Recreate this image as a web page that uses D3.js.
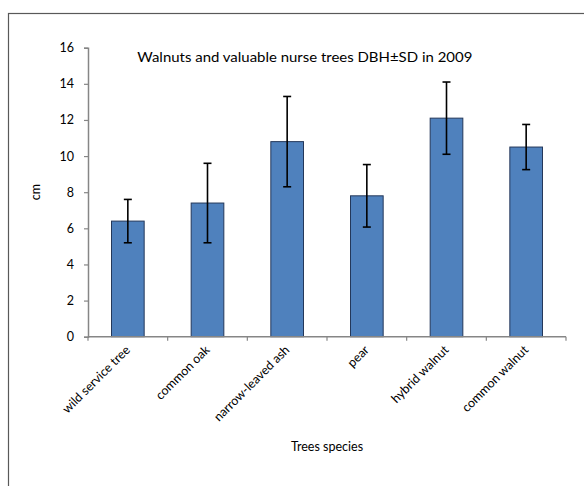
<!DOCTYPE html>
<html><head><meta charset="utf-8">
<script src="https://cdn.jsdelivr.net/npm/d3@7"></script>
<style>body{margin:0;background:#fff;} svg{display:block;} text{font-family:Lato,"Open Sans",sans-serif;fill:#000;}</style>
</head><body>
<svg id="c" width="584" height="486"></svg>
<script>
const categories = ["wild service tree","common oak","narrow-leaved ash","pear","hybrid walnut","common walnut"];
const means = [6.4, 7.4, 10.8, 7.8, 12.1, 10.5];
const sds = [1.2, 2.2, 2.5, 1.73, 2.0, 1.25];
const yTicks = [0,2,4,6,8,10,12,14,16];
const title = "Walnuts and valuable nurse trees DBH±SD in 2009";

const svg = d3.select("#c");
svg.append("rect").attr("x",8.5).attr("y",13.5).attr("width",600).attr("height",500)
  .attr("fill","none").attr("stroke","#595959").attr("stroke-width",1.2);

const pL=88, pR=566, pT=47.7, pB=336.7;
const x = d3.scaleBand().domain(categories).range([pL,pR]).paddingInner(0.59).paddingOuter(0.295);
const xb = d3.scaleBand().domain(categories).range([pL,pR]);
const y = d3.scaleLinear().domain([0,16]).range([pB,pT]);

const ya = svg.append("g").attr("transform",`translate(${pL},0)`)
  .call(d3.axisLeft(y).tickValues(yTicks).tickSize(4).tickPadding(10).tickFormat(d3.format("d")));
ya.select(".domain").attr("stroke","#868686").attr("stroke-width",1.5);
ya.selectAll(".tick line").attr("stroke","#868686").attr("stroke-width",1.2);
ya.selectAll(".tick text").attr("font-size",12.5).attr("font-family","Lato");

svg.append("g").selectAll("rect").data(categories).join("rect")
  .attr("x",d=>x(d)).attr("width",x.bandwidth())
  .attr("y",(d,i)=>y(means[i])).attr("height",(d,i)=>y(0)-y(means[i]))
  .attr("fill","#4f81bd").attr("stroke","#24385a").attr("stroke-width",1);

const xa = svg.append("g").attr("transform",`translate(0,${pB})`);
xa.append("line").attr("x1",pL).attr("x2",pR).attr("stroke","#868686").attr("stroke-width",1.5);
xa.selectAll("line.t").data(categories.concat(["end"])).join("line").attr("class","t")
  .attr("x1",(d,i)=>pL+i*xb.step()).attr("x2",(d,i)=>pL+i*xb.step())
  .attr("y1",0).attr("y2",4).attr("stroke","#868686").attr("stroke-width",1.2);
xa.selectAll("text").data(categories).join("text")
  .attr("transform",d=>`translate(${x(d)+x.bandwidth()/2+3},14) rotate(-45)`)
  .attr("text-anchor","end").attr("font-size",12.5).text(d=>d);

const eb = svg.append("g").attr("stroke","#000").attr("stroke-width",1.6);
categories.forEach((c,i)=>{
  const cx = x(c)+x.bandwidth()/2;
  eb.append("line").attr("x1",cx).attr("x2",cx).attr("y1",y(means[i]+sds[i])).attr("y2",y(means[i]-sds[i]));
  [means[i]+sds[i], means[i]-sds[i]].forEach(v=>{
    eb.append("line").attr("x1",cx-4).attr("x2",cx+4).attr("y1",y(v)).attr("y2",y(v));
  });
});

svg.append("text").attr("x",137.3).attr("y",62).attr("font-size",14)
  .attr("textLength",335).attr("lengthAdjust","spacingAndGlyphs").text(title);
svg.append("text").attr("transform","translate(40,192) rotate(-90)").attr("text-anchor","middle")
  .attr("font-size",12.5).text("cm");
svg.append("text").attr("x",327).attr("y",451).attr("text-anchor","middle")
  .attr("font-size",12.5).text("Trees species");
</script>
</body></html>
